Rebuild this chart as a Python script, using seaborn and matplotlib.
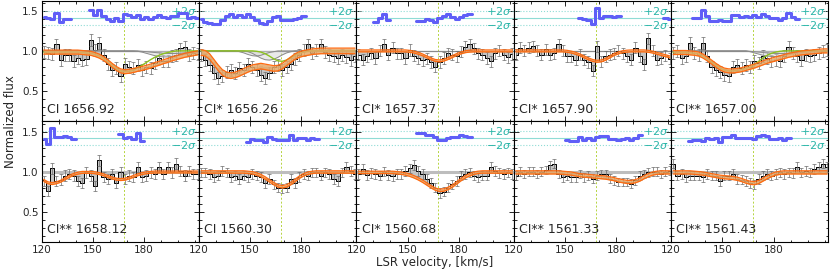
import matplotlib
matplotlib.use("Agg")
import matplotlib.pyplot as plt
import numpy as np
import seaborn as sns
from matplotlib.ticker import MultipleLocator

# ----------------------
# Data
# ----------------------
# velocity bin centres, km/s (LSR)
velocity = [121.25, 123.75, 126.25, 128.75, 131.25, 133.75, 136.25, 138.75, 141.25,
            143.75, 146.25, 148.75, 151.25, 153.75, 156.25, 158.75, 161.25, 163.75,
            166.25, 168.75, 171.25, 173.75, 176.25, 178.75, 181.25, 183.75, 186.25,
            188.75, 191.25, 193.75, 196.25, 198.75, 201.25, 203.75, 206.25, 208.75,
            211.25]

line_names = ["CI 1656.92", "CI* 1656.26", "CI* 1657.37", "CI* 1657.90", "CI** 1657.00",
              "CI** 1658.12", "CI 1560.30", "CI* 1560.68", "CI** 1561.33", "CI** 1561.43"]

line_velocity = 168.0

flux_1656_92 = [0.99, 0.97, 0.96, 1.08, 0.89, 0.95, 0.95, 0.87, 0.91, 0.89, 0.90, 1.14, 1.01,
                1.10, 0.95, 0.83, 0.76, 0.78, 0.68, 0.83, 0.80, 0.78, 0.82, 0.76, 0.80, 0.78,
                0.85, 0.91, 0.87, 0.87, 0.93, 0.95, 1.03, 1.05, 0.95, 0.97, 0.96]
flux_1656_26 = [0.95, 0.88, 0.82, 0.72, 0.66, 0.68, 0.74, 0.76, 0.72, 0.78, 0.76, 0.84, 0.80,
                0.76, 0.70, 0.66, 0.72, 0.80, 0.82, 0.76, 0.80, 0.84, 0.90, 0.95, 1.01, 1.08,
                0.97, 1.01, 1.08, 0.99, 0.95, 0.93, 0.91, 0.95, 0.92, 0.89, 0.93]
flux_1657_37 = [0.95, 0.89, 0.93, 0.97, 0.91, 1.00, 1.08, 0.95, 1.04, 0.97, 0.97, 0.91, 1.01,
                0.94, 0.91, 0.88, 0.90, 0.86, 0.80, 0.86, 0.91, 0.97, 0.95, 0.93, 0.99, 1.05,
                1.08, 1.03, 0.97, 0.95, 0.91, 0.87, 0.97, 1.00, 0.95, 0.92, 0.96]
flux_1657_90 = [0.95, 1.04, 1.00, 1.04, 1.06, 1.00, 0.95, 1.02, 0.95, 0.97, 1.08, 1.00, 0.93,
                0.93, 0.89, 0.95, 0.89, 0.86, 0.75, 1.06, 0.87, 0.93, 0.95, 0.97, 1.00, 0.97,
                0.93, 0.89, 1.04, 0.93, 0.83, 1.16, 1.00, 0.89, 0.91, 0.94, 0.90]
flux_1657_00 = [0.97, 1.00, 0.91, 0.93, 1.10, 0.97, 0.95, 1.10, 0.93, 0.80, 0.76, 0.74, 0.70,
                0.68, 0.80, 0.82, 0.78, 0.82, 0.80, 0.87, 0.85, 0.93, 0.91, 0.87, 0.89, 0.87,
                0.93, 1.05, 0.97, 0.93, 0.89, 0.95, 0.93, 0.95, 0.97, 1.00, 1.01]
flux_1658_12 = [0.88, 0.76, 1.04, 0.88, 0.90, 0.95, 0.97, 0.95, 0.88, 0.86, 0.99, 0.95, 0.82,
                1.14, 0.93, 0.91, 0.97, 0.86, 0.99, 0.91, 0.95, 0.93, 1.06, 0.93, 0.95, 0.99,
                0.97, 1.06, 0.97, 1.06, 0.99, 1.10, 1.01, 0.95, 1.01, 0.97, 0.97]
flux_1560_30 = [0.99, 0.99, 0.97, 0.93, 0.95, 1.01, 0.99, 0.93, 0.95, 0.91, 0.95, 0.93, 0.97,
                0.95, 0.93, 0.86, 0.91, 0.84, 0.80, 0.79, 0.80, 0.91, 0.86, 0.93, 0.97, 0.95,
                0.99, 0.99, 0.95, 0.99, 0.97, 0.91, 0.88, 0.99, 1.06, 1.01, 0.97]
flux_1560_68 = [0.97, 1.03, 0.96, 0.98, 0.97, 0.95, 1.00, 0.96, 0.94, 0.97, 0.97, 1.01, 1.04,
                1.08, 1.01, 0.97, 0.91, 0.86, 0.80, 0.73, 0.75, 0.80, 0.84, 0.88, 0.95, 0.97,
                0.99, 0.95, 0.93, 0.95, 0.95, 1.06, 1.01, 0.98, 0.97, 0.99, 0.97]
flux_1561_33 = [0.95, 1.00, 0.97, 1.00, 1.00, 0.97, 1.00, 1.02, 1.08, 1.10, 0.97, 0.93, 0.95,
                0.93, 0.93, 0.97, 0.93, 0.95, 0.91, 0.95, 0.97, 0.97, 0.91, 0.89, 0.87, 0.87,
                0.87, 0.85, 0.89, 0.95, 0.97, 0.99, 1.00, 1.00, 0.97, 1.00, 1.01]
flux_1561_43 = [1.10, 0.95, 0.97, 0.93, 0.95, 0.95, 0.95, 0.93, 0.97, 0.95, 0.95, 0.88, 0.95,
                0.95, 0.97, 0.91, 0.90, 0.88, 0.86, 0.84, 0.91, 0.95, 0.97, 0.95, 0.97, 0.99,
                0.97, 0.99, 0.98, 1.06, 0.99, 1.01, 0.99, 1.03, 1.06, 1.10, 1.06]

model_1656_92 = [0.985, 0.985, 0.985, 0.985, 0.985, 0.985, 0.985, 0.985, 0.985, 0.98, 0.975,
                 0.97, 0.955, 0.935, 0.905, 0.865, 0.82, 0.78, 0.75, 0.74, 0.745, 0.755, 0.77,
                 0.78, 0.795, 0.81, 0.83, 0.845, 0.865, 0.88, 0.90, 0.915, 0.93, 0.945, 0.955,
                 0.965, 0.975]
model_1656_26 = [0.98, 0.97, 0.93, 0.86, 0.79, 0.73, 0.70, 0.69, 0.70, 0.72, 0.745, 0.77, 0.79,
                 0.80, 0.81, 0.80, 0.79, 0.78, 0.785, 0.81, 0.85, 0.89, 0.93, 0.955, 0.97, 0.98,
                 0.99, 0.995, 1.0, 1.0, 1.0, 1.0, 1.0, 1.0, 1.0, 1.0, 1.0]
model_1657_37 = [1.0, 1.0, 1.0, 1.0, 1.0, 1.0, 1.0, 1.0, 1.0, 1.0, 1.0, 1.0, 0.995, 0.985,
                 0.97, 0.95, 0.925, 0.90, 0.88, 0.875, 0.885, 0.905, 0.93, 0.955, 0.975, 0.99,
                 0.997, 1.0, 1.0, 1.0, 1.0, 1.0, 1.0, 1.0, 1.0, 1.0, 1.0]
model_1657_90 = [1.0, 1.0, 1.0, 1.0, 1.0, 1.0, 1.0, 1.0, 1.0, 1.0, 1.0, 1.0, 0.995, 0.985,
                 0.97, 0.95, 0.925, 0.90, 0.88, 0.87, 0.875, 0.895, 0.925, 0.955, 0.975, 0.99,
                 0.997, 1.0, 1.0, 1.0, 1.0, 0.995, 0.985, 0.97, 0.955, 0.94, 0.925]
model_1657_00 = [0.98, 0.98, 0.98, 0.98, 0.975, 0.97, 0.96, 0.935, 0.90, 0.86, 0.82, 0.785,
                 0.76, 0.75, 0.75, 0.755, 0.765, 0.78, 0.795, 0.81, 0.83, 0.85, 0.87, 0.885,
                 0.90, 0.915, 0.93, 0.945, 0.955, 0.965, 0.975, 0.98, 0.985, 0.99, 0.995, 1.0,
                 1.0]
model_1658_12 = [0.89, 0.86, 0.85, 0.86, 0.88, 0.91, 0.94, 0.965, 0.98, 0.99, 0.99, 0.99, 0.985,
                 0.975, 0.96, 0.94, 0.92, 0.905, 0.90, 0.905, 0.92, 0.94, 0.96, 0.975, 0.985,
                 0.99, 0.995, 0.995, 0.995, 0.995, 0.995, 0.995, 0.995, 0.995, 0.995, 0.995,
                 0.995]
model_1560_30 = [0.995, 0.995, 0.995, 0.995, 0.995, 0.995, 0.995, 0.995, 0.995, 0.995, 0.995,
                 0.99, 0.985, 0.97, 0.95, 0.92, 0.885, 0.85, 0.82, 0.81, 0.82, 0.85, 0.89, 0.93,
                 0.96, 0.98, 0.99, 0.995, 0.995, 0.995, 0.995, 0.995, 0.995, 0.995, 0.995,
                 0.995, 0.995]
model_1560_68 = [0.99, 0.99, 0.99, 0.99, 0.99, 0.99, 0.99, 0.99, 0.99, 0.985, 0.98, 0.97,
                 0.955, 0.935, 0.91, 0.88, 0.845, 0.81, 0.78, 0.765, 0.77, 0.79, 0.82, 0.86,
                 0.90, 0.935, 0.96, 0.98, 0.99, 0.995, 0.995, 0.995, 0.995, 0.995, 0.995, 0.995,
                 0.995]
model_1561_33 = [0.99, 0.99, 0.99, 0.99, 0.99, 0.99, 0.99, 0.99, 0.99, 0.99, 0.99, 0.985, 0.98,
                 0.975, 0.965, 0.955, 0.95, 0.945, 0.94, 0.935, 0.93, 0.925, 0.915, 0.905, 0.89,
                 0.88, 0.87, 0.87, 0.88, 0.90, 0.93, 0.955, 0.975, 0.985, 0.99, 0.99, 0.99]
model_1561_43 = [0.99, 0.99, 0.99, 0.99, 0.99, 0.985, 0.98, 0.975, 0.965, 0.955, 0.945, 0.935,
                 0.93, 0.925, 0.92, 0.91, 0.895, 0.875, 0.86, 0.855, 0.87, 0.90, 0.93, 0.955,
                 0.975, 0.985, 0.99, 0.99, 0.99, 0.99, 0.99, 0.99, 0.99, 0.99, 0.99, 0.99, 0.99]

# individual velocity components (only the three strongest panels show them)
green_1656_92 = [0.985, 0.985, 0.985, 0.985, 0.985, 0.985, 0.985, 0.985, 0.985, 0.98, 0.975,
                 0.97, 0.955, 0.935, 0.905, 0.865, 0.82, 0.78, 0.75, 0.74, 0.745, 0.755, 0.79,
                 0.82, 0.855, 0.89, 0.92, 0.945, 0.965, 0.98, 0.99, 1.0, 1.0, 1.0, 1.0, 1.0, 1.0]
green_1656_26 = [1.0, 1.0, 1.0, 1.0, 1.0, 1.0, 1.0, 1.0, 1.0, 1.0, 1.0, 1.0, 1.0, 0.995, 0.985,
                 0.965, 0.935, 0.90, 0.875, 0.87, 0.885, 0.915, 0.945, 0.97, 0.985, 0.995, 1.0,
                 1.0, 1.0, 1.0, 1.0, 1.0, 1.0, 1.0, 1.0, 1.0, 1.0]
green_1657_00 = [0.98, 0.98, 0.98, 0.98, 0.975, 0.97, 0.96, 0.935, 0.90, 0.86, 0.82, 0.785,
                 0.76, 0.75, 0.75, 0.755, 0.765, 0.78, 0.795, 0.83, 0.87, 0.91, 0.945, 0.97,
                 0.985, 0.995, 1.0, 1.0, 1.0, 1.0, 1.0, 1.0, 1.0, 1.0, 1.0, 1.0, 1.0]

gray_a_1656_92 = [1.0, 1.0, 1.0, 1.0, 1.0, 1.0, 1.0, 1.0, 1.0, 1.0, 1.0, 1.0, 1.0, 1.0, 1.0,
                  1.0, 1.0, 1.0, 1.0, 1.0, 1.0, 1.0, 1.0, 0.995, 0.99, 0.985, 0.98, 0.975, 0.97,
                  0.968, 0.967, 0.968, 0.97, 0.975, 0.98, 0.985, 0.99]
gray_b_1656_92 = [1.0, 1.0, 1.0, 1.0, 1.0, 1.0, 1.0, 1.0, 1.0, 1.0, 1.0, 1.0, 1.0, 1.0, 1.0,
                  1.0, 1.0, 1.0, 1.0, 1.0, 1.0, 1.0, 0.995, 0.985, 0.97, 0.955, 0.94, 0.93,
                  0.925, 0.925, 0.93, 0.94, 0.95, 0.96, 0.97, 0.975, 0.98]
gray_a_1656_26 = [1.0, 1.0, 1.0, 1.0, 1.0, 1.0, 1.0, 1.0, 1.0, 1.0, 1.0, 0.99, 0.97, 0.94, 0.91,
                  0.89, 0.885, 0.895, 0.92, 0.95, 0.975, 0.99, 1.0, 1.0, 1.0, 1.0, 1.0, 1.0,
                  1.0, 1.0, 1.0, 1.0, 1.0, 1.0, 1.0, 1.0, 1.0]
gray_b_1656_26 = [1.0, 1.0, 1.0, 1.0, 1.0, 1.0, 1.0, 1.0, 1.0, 0.99, 0.975, 0.955, 0.94, 0.935,
                  0.945, 0.965, 0.98, 0.99, 1.0, 1.0, 1.0, 1.0, 1.0, 1.0, 1.0, 1.0, 1.0, 1.0,
                  1.0, 1.0, 1.0, 1.0, 1.0, 1.0, 1.0, 1.0, 1.0]
gray_a_1657_00 = [1.0, 1.0, 1.0, 1.0, 1.0, 1.0, 1.0, 1.0, 1.0, 1.0, 1.0, 1.0, 1.0, 1.0, 1.0,
                  1.0, 1.0, 1.0, 0.995, 0.99, 0.985, 0.98, 0.975, 0.97, 0.968, 0.967, 0.968,
                  0.97, 0.975, 0.98, 0.985, 0.99, 0.995, 1.0, 1.0, 1.0, 1.0]
gray_b_1657_00 = [1.0, 1.0, 1.0, 1.0, 1.0, 1.0, 1.0, 1.0, 1.0, 1.0, 1.0, 1.0, 1.0, 1.0, 1.0,
                  1.0, 1.0, 1.0, 0.99, 0.975, 0.96, 0.945, 0.935, 0.93, 0.93, 0.935, 0.945,
                  0.955, 0.965, 0.975, 0.98, 0.985, 0.99, 0.995, 1.0, 1.0, 1.0]

# 1-sigma flux uncertainty and model band half-width per panel
flux_err = [0.075, 0.075, 0.07, 0.07, 0.075, 0.065, 0.06, 0.06, 0.055, 0.06]
model_spread = [0.025, 0.035, 0.012, 0.012, 0.025, 0.012, 0.015, 0.015, 0.02, 0.02]

# velocity windows where residuals were computed
residual_windows = [[(120, 137), (148, 212)], [(120, 182)], [(129, 141), (155, 188)],
                    [(158, 182), (207, 212)], [(132, 194)], [(120, 140), (165, 179)],
                    [(147, 189)], [(156, 188)], [(151, 194)], [(131, 190)]]

fluxes = [flux_1656_92, flux_1656_26, flux_1657_37, flux_1657_90, flux_1657_00,
          flux_1658_12, flux_1560_30, flux_1560_68, flux_1561_33, flux_1561_43]
models = [model_1656_92, model_1656_26, model_1657_37, model_1657_90, model_1657_00,
          model_1658_12, model_1560_30, model_1560_68, model_1561_33, model_1561_43]
greens = {0: green_1656_92, 1: green_1656_26, 4: green_1657_00}
grays = {0: [gray_a_1656_92, gray_b_1656_92], 1: [gray_a_1656_26, gray_b_1656_26],
         4: [gray_a_1657_00, gray_b_1657_00]}

# residual strip: zero level and 2-sigma half-width in flux units
res_zero = 1.415
res_2sig = 0.088

# ----------------------
# Plot
# ----------------------
sns.set_style("ticks")
plt.rcParams["font.family"] = ["DejaVu Sans"]
plt.rcParams["mathtext.fontset"] = "dejavusans"

fig, axes = plt.subplots(2, 5, figsize=(8.3, 2.7), dpi=100, sharex=True, sharey=True)
fig.subplots_adjust(left=0.05, right=0.998, top=0.998, bottom=0.104, wspace=0, hspace=0)

v = np.array(velocity)
orange = "#ff6a10"
teal = "#2bb5a8"

for k, ax in enumerate(axes.flat):
    f = np.array(fluxes[k])
    m = np.array(models[k])
    s = model_spread[k]
    err = flux_err[k]

    # line centre
    ax.axvline(line_velocity, color="#b5d43f", lw=0.7, ls=(0, (2, 2)), zorder=1)

    # residual guides
    ax.axhline(res_zero, color="#8fdcd5", lw=0.8, zorder=1)
    ax.axhline(res_zero + res_2sig, color="#8fdcd5", lw=0.8, ls=":", zorder=1)
    ax.axhline(res_zero - res_2sig, color="#8fdcd5", lw=0.8, ls=":", zorder=1)
    trans = ax.get_yaxis_transform()
    ax.text(0.985, res_zero + res_2sig, r"$+2\sigma$", transform=trans, ha="right",
            va="center", color=teal, fontsize=8)
    ax.text(0.985, res_zero - res_2sig, r"$-2\sigma$", transform=trans, ha="right",
            va="center", color=teal, fontsize=8)

    # continuum
    if k < 5:
        ax.axhline(1.0, color="#8a8a8a", lw=0.9, zorder=2)
    else:
        ax.axhline(1.0, color="#bdbdbd", lw=2.2, zorder=2)

    # data
    ax.fill_between(v, f, m, step="mid", color="#c4c4c4", lw=0, zorder=2)
    ax.step(v, f, where="mid", color="black", lw=0.7, zorder=3)
    ax.errorbar(v, f, yerr=err, fmt="none", ecolor="#6a6a6a", elinewidth=0.5,
                capsize=1.3, capthick=0.5, zorder=3)

    # components
    for g in grays.get(k, []):
        ax.fill_between(v, g, 1.0, color="#d5d5d5", alpha=0.5, lw=0, zorder=3)
        sns.lineplot(x=v, y=g, ax=ax, color="#8a8a8a", lw=0.7, estimator=None, zorder=4)
    if k in greens:
        sns.lineplot(x=v, y=greens[k], ax=ax, color="#8cc21f", lw=1.0, estimator=None,
                     zorder=4)

    # model band
    ax.fill_between(v, m - s, m + s, color="#e6a868", alpha=0.85, lw=0, zorder=5)
    sns.lineplot(x=v, y=m + s, ax=ax, color=orange, lw=0.9, estimator=None, zorder=6)
    sns.lineplot(x=v, y=m - s, ax=ax, color=orange, lw=0.9, estimator=None, zorder=6)

    # residuals
    mask = np.zeros(len(v), dtype=bool)
    for lo, hi in residual_windows[k]:
        mask |= (v >= lo) & (v <= hi)
    res = res_zero + (f - m) / err * (res_2sig / 2)
    res[~mask] = np.nan
    ax.step(v, res, where="mid", color="#5f5ff7", lw=2.2, zorder=6)

    ax.text(0.035, 0.1, line_names[k], transform=ax.transAxes, fontsize=9, va="center",
            zorder=7)

    ax.set_xlim(120, 212)
    ax.set_ylim(0.12, 1.63)
    ax.set_xticks([120, 150, 180])
    ax.set_yticks([0.5, 1.0, 1.5])
    ax.xaxis.set_minor_locator(MultipleLocator(10))
    ax.yaxis.set_minor_locator(MultipleLocator(0.1))
    ax.tick_params(which="both", direction="in", top=True, right=True, width=0.7,
                   labelsize=7.5, pad=2)
    ax.tick_params(which="major", length=3.5)
    ax.tick_params(which="minor", length=1.8)
    ax.set_xlabel("")
    ax.set_ylabel("")
    for sp in ax.spines.values():
        sp.set_linewidth(0.8)
        sp.set_color("black")

fig.text(0.013, 0.55, "Normalized flux", rotation=90, ha="center", va="center", fontsize=8.5)
fig.text(0.524, 0.027, "LSR velocity, [km/s]", ha="center", va="center", fontsize=8.5)

fig.savefig("out.png", dpi=100)
